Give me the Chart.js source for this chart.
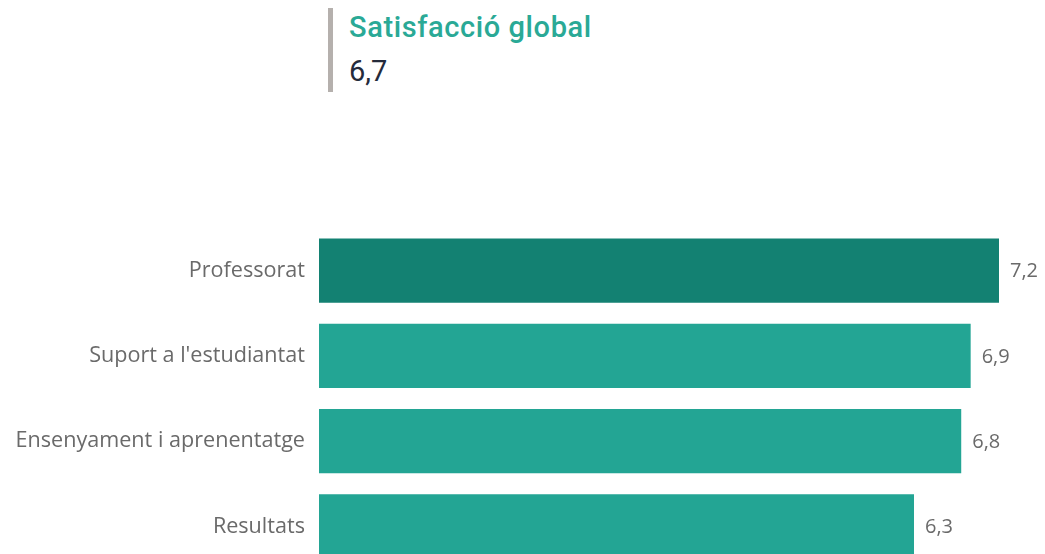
<!DOCTYPE html>
<html>
<head>
<meta charset="utf-8">
<script src="https://cdn.jsdelivr.net/npm/chart.js@4"></script>
<style>
    html, body { margin: 0; padding: 0; background: #fff; overflow: hidden; width: 1045px; height: 554px; }
    .kpi { position: absolute; left: 328px; top: 8px; height: 84px; border-left: 5px solid #b5b0ad; padding-left: 16px; }
    .kpi-title { font-family: Roboto, sans-serif; font-weight: 500; font-size: 29px; letter-spacing: 0.6px; color: #2aa996; line-height: 36px; margin-top: 1px; }
    .kpi-value { font-family: Roboto, sans-serif; font-weight: 400; font-size: 29px; color: #252b3b; line-height: 36px; margin-top: 8px; }
    #wrap { position: absolute; left: 0; top: 0; width: 1045px; height: 588px; }
</style>
</head>
<body>
<div class="kpi">
    <div class="kpi-title">Satisfacció global</div>
    <div class="kpi-value" id="kpiValue"></div>
</div>
<div id="wrap"><canvas id="chart"></canvas></div>
<script>
const globalScore = 6.7;
const categories = ['Professorat', "Suport a l'estudiantat", 'Ensenyament i aprenentatge', 'Resultats'];
const scores = [7.2, 6.9, 6.8, 6.3];
const barColors = ['#138172', '#23a594', '#23a594', '#23a594'];

const fmt = v => v.toFixed(1).replace('.', ',');
document.getElementById('kpiValue').textContent = fmt(globalScore);

// value labels to the right of each bar
const valueLabels = {
    id: 'valueLabels',
    afterDatasetsDraw(chart) {
        const ctx = chart.ctx;
        const meta = chart.getDatasetMeta(0);
        ctx.save();
        ctx.font = '400 20px "Open Sans"';
        ctx.fillStyle = '#6a6a6a';
        ctx.textBaseline = 'middle';
        ctx.textAlign = 'left';
        meta.data.forEach((bar, i) => ctx.fillText(fmt(scores[i]), bar.x + 11, bar.y + 1));
        ctx.restore();
    }
};

new Chart(document.getElementById('chart'), {
    type: 'bar',
    data: {
        labels: categories,
        datasets: [{ data: scores, backgroundColor: barColors, borderWidth: 0, categoryPercentage: 1, barPercentage: 0.753 }]
    },
    options: {
        indexAxis: 'y',
        responsive: true,
        maintainAspectRatio: false,
        animation: false,
        layout: { padding: { top: 228, right: 46, bottom: 0, left: 0 } },
        plugins: { legend: { display: false }, tooltip: { enabled: false } },
        scales: {
            x: { display: false, min: 0, max: 7.2 },
            y: {
                grid: { display: false },
                border: { display: false },
                ticks: { color: '#6a6a6a', padding: 6, font: { family: 'Open Sans', size: 21.6, weight: 400 } },
                afterFit: s => { s.width = 319; }
            }
        }
    },
    plugins: [valueLabels]
});
</script>
</body>
</html>
